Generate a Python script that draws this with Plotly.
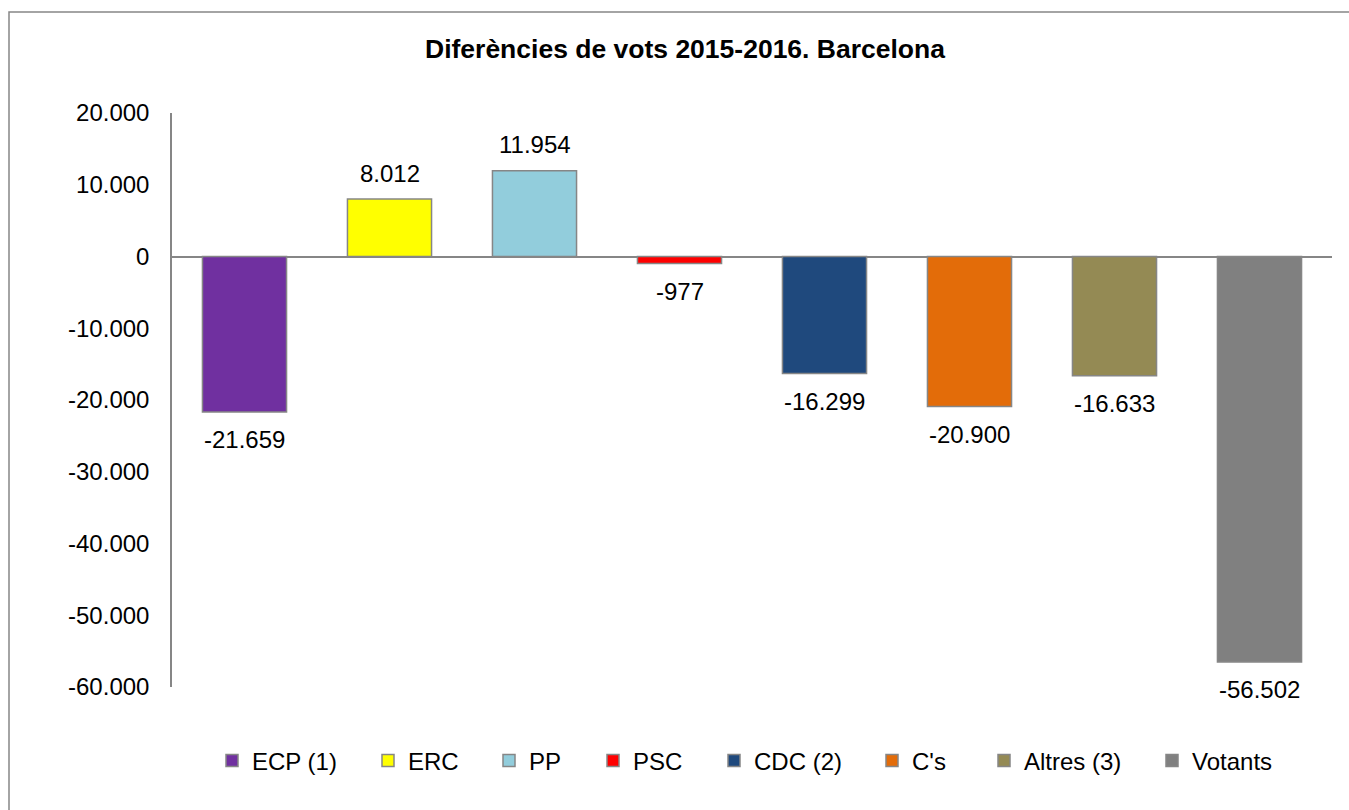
import plotly.graph_objects as go

categories = ["ECP (1)", "ERC", "PP", "PSC", "CDC (2)", "C's", "Altres (3)", "Votants"]
values = [-21659, 8012, 11954, -977, -16299, -20900, -16633, -56502]
colors = ["#7030A0", "#FFFF00", "#92CDDC", "#FF0000", "#1F497D", "#E36C09", "#948A54", "#808080"]
tick_values = [20000, 10000, 0, -10000, -20000, -30000, -40000, -50000, -60000]
tick_labels = ["20.000", "10.000", "0", "-10.000", "-20.000", "-30.000", "-40.000", "-50.000", "-60.000"]
title_text = "Diferències de vots 2015-2016. Barcelona"


def fmt(v):
    s = f"{abs(v):,}".replace(",", ".")
    return ("-" if v < 0 else "") + s


FONT = "Liberation Sans, Arial, sans-serif"
GRAY = "#868686"

# layout geometry (pixels)
PL, PR, PT, PB = 172, 1332, 113, 687
PW, PH = PR - PL, PB - PT
legend_marker_px = [237, 393, 514, 618, 739, 897, 1009, 1177]
LEG_OFF = 25

fig = go.Figure()
for i, (cat, val, col) in enumerate(zip(categories, values, colors)):
    fig.add_trace(go.Bar(
        x=[cat], y=[val], name=cat,
        marker=dict(color=col, line=dict(color=GRAY, width=1.5)),
        width=0.58,
        cliponaxis=False,
        hoverinfo="skip",
        legend="legend" if i == 0 else f"legend{i + 1}",
    ))

annotations = []
for cat, val in zip(categories, values):
    annotations.append(dict(
        x=cat, y=val, xref="x", yref="y", text=fmt(val), showarrow=False,
        xanchor="center", yanchor="middle", yshift=26 if val >= 0 else -28,
        font=dict(family=FONT, size=24, color="black")))

legends = {}
for i, mx in enumerate(legend_marker_px):
    key = "legend" if i == 0 else f"legend{i + 1}"
    legends[key] = dict(
        orientation="h", x=(mx - LEG_OFF - PL) / PW, xanchor="left", xref="paper",
        y=-(761 - PB) / PH, yanchor="middle", yref="paper",
        font=dict(family=FONT, size=24, color="black"),
        itemwidth=30, bgcolor="rgba(0,0,0,0)")

fig.update_layout(
    width=1349, height=810,
    autosize=False,
    margin=dict(l=PL, r=1349 - PR, t=PT, b=810 - PB, autoexpand=False),
    paper_bgcolor="white", plot_bgcolor="white",
    barmode="overlay",
    font=dict(family=FONT, size=24, color="black"),
    title=dict(text="<b>" + title_text + "</b>", x=685 / 1349, xref="container", xanchor="center",
               y=1 - 49 / 810, yref="container", yanchor="middle",
               font=dict(family=FONT, size=26.5, color="black")),
    showlegend=True,
    xaxis=dict(range=[-0.5, 7.5], showticklabels=False, showline=False,
               showgrid=False, zeroline=False, ticks=""),
    yaxis=dict(range=[-60000, 20000], tickvals=tick_values, ticktext=tick_labels,
               showgrid=False, showline=True, linecolor=GRAY, linewidth=1.5,
               zeroline=True, zerolinecolor=GRAY, zerolinewidth=1.5,
               ticks="", ticklabelstandoff=16,
               tickfont=dict(family=FONT, size=24, color="black")),
    annotations=annotations,
    shapes=[dict(type="rect", xref="paper", yref="paper",
                 x0=(9 - PL) / PW, x1=(1352 - PL) / PW,
                 y0=(PB - 815) / PH, y1=(PB - 12) / PH,
                 line=dict(color=GRAY, width=1.5), fillcolor="rgba(0,0,0,0)",
                 layer="below")],
    **legends,
)

fig.write_html("out.html", config={"displayModeBar": False},
               post_script="document.body.style.margin='0';document.body.style.overflow='hidden';")
